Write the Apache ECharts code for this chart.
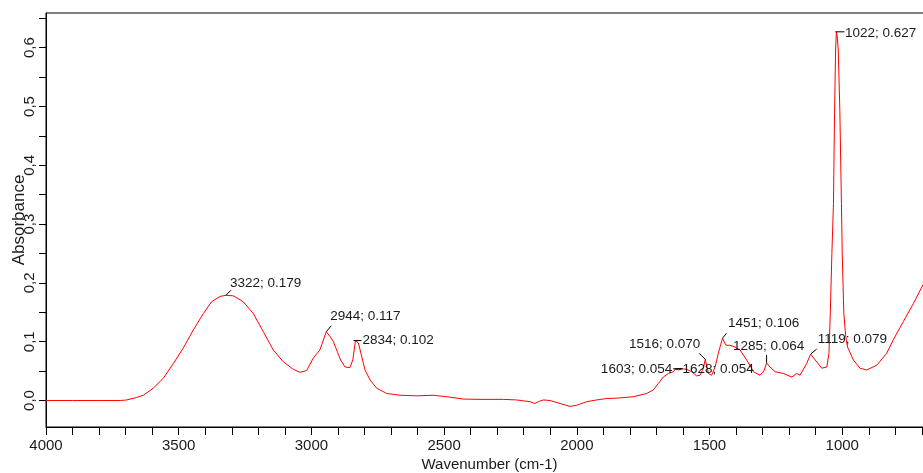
<!DOCTYPE html>
<html>
<head>
<meta charset="utf-8">
<script src="https://cdn.jsdelivr.net/npm/echarts@6/dist/echarts.min.js"></script>
<style>
html,body{margin:0;padding:0;background:#fff;}
#chart{width:923px;height:473px;}
</style>
</head>
<body>
<div id="chart"></div>
<script>
// Spectrum (wavenumber cm-1, absorbance)
var wavenumbers = [4000,3900,3800,3720,3696,3660,3633,3596,3558,3520,3483,3445,3407,3376,3344,3322,3294,3257,3219,3181,3144,3106,3068,3043,3018,2993,2968,2944,2930,2917,2905,2890,2873,2855,2844,2834,2823,2810,2798,2779,2754,2716,2666,2603,2541,2490,2428,2365,2277,2227,2176,2158,2140,2126,2101,2063,2026,2000,1963,1925,1887,1850,1787,1737,1712,1693,1674,1655,1636,1628,1618,1603,1586,1567,1549,1536,1523,1516,1504,1492,1479,1467,1458,1451,1438,1423,1404,1385,1360,1334,1310,1295,1285,1272,1253,1222,1190,1172,1159,1134,1119,1102,1077,1058,1050,1045,1039,1033,1029,1025,1022,1019,1015,1009,1003,1000,994,987,980,958,933,908,870,833,808,770,732,700,690];
var absorbance  = [0.000,0.000,0.000,0.000,0.001,0.005,0.009,0.021,0.038,0.063,0.089,0.120,0.148,0.168,0.177,0.179,0.178,0.168,0.148,0.117,0.086,0.066,0.053,0.048,0.051,0.072,0.086,0.117,0.109,0.100,0.086,0.069,0.057,0.056,0.069,0.102,0.098,0.074,0.052,0.035,0.021,0.012,0.009,0.008,0.009,0.0065,0.0025,0.002,0.002,0.001,-0.002,-0.005,-0.001,0.001,0.000,-0.005,-0.010,-0.008,-0.002,0.001,0.0035,0.004,0.0065,0.012,0.018,0.029,0.040,0.046,0.049,0.054,0.052,0.054,0.053,0.049,0.042,0.043,0.055,0.070,0.046,0.043,0.057,0.080,0.095,0.106,0.094,0.094,0.091,0.086,0.069,0.049,0.043,0.050,0.064,0.057,0.049,0.046,0.040,0.046,0.043,0.063,0.079,0.069,0.055,0.057,0.080,0.148,0.250,0.335,0.488,0.596,0.627,0.620,0.596,0.494,0.335,0.250,0.148,0.110,0.091,0.069,0.055,0.052,0.060,0.080,0.103,0.134,0.165,0.193,0.202];

// Peak annotations
var peakWn   = [3322, 2944, 2834, 1603, 1628, 1516, 1451, 1285, 1119, 1022];
var peakAbs  = [0.179, 0.117, 0.102, 0.054, 0.054, 0.070, 0.106, 0.064, 0.079, 0.627];
var peakText = ['3322; 0.179','2944; 0.117','2834; 0.102','1603; 0.054','1628; 0.054','1516; 0.070','1451; 0.106','1285; 0.064','1119; 0.079','1022; 0.627'];

// Tick labels
var xTickLabels = [4000, 3500, 3000, 2500, 2000, 1500, 1000];
var xTicks = [4000,3900,3800,3700,3600,3500,3400,3300,3200,3100,3000,2900,2800,2700,2600,2500,2400,2300,2200,2100,2000,1900,1800,1700,1600,1500,1400,1300,1200,1100,1000,900,800,700];
var yTickLabels = [0, 0.1, 0.2, 0.3, 0.4, 0.5, 0.6];
var yTicks = [0, 0.05, 0.1, 0.15, 0.2, 0.25, 0.3, 0.35, 0.4, 0.45, 0.5, 0.55, 0.6, 0.65];

// label layout (pixel offsets of leader line and text relative to the peak)
var labelLayout = [
  {l0:[0,0], l1:[5,-5], t:[4,-12], a:'left'},
  {l0:[0,0], l1:[5,-6], t:[4,-15], a:'left'},
  {l0:[-2,0], l1:[6,0], t:[7,0], a:'left'},
  {l0:[0,0], l1:[-9,0], t:[-10,0], a:'right'},
  {l0:[0,0], l1:[7,0], t:[7,0], a:'left'},
  {l0:[0,0], l1:[-6,-6], t:[-5,-15], a:'right'},
  {l0:[0,0], l1:[4,-5], t:[5.5,-15], a:'left'},
  {l0:[0,0], l1:[0,-8], t:[2,-17], a:'center'},
  {l0:[0,0], l1:[6,-5], t:[7,-15], a:'left'},
  {l0:[-1,0], l1:[8,0], t:[8.5,1], a:'left'}
];

var spectrum = wavenumbers.map(function(w,i){return [w, absorbance[i]];});
var peaks = peakWn.map(function(w,i){return [w, peakAbs[i], i];});

var FONT = '"Liberation Sans", Arial, sans-serif';
var chart = echarts.init(document.getElementById('chart'), null, {renderer:'canvas'});
chart.setOption({
  animation: false,
  backgroundColor: '#fff',
  grid: {left: 46, top: 13, right: -10, bottom: 46, containLabel: false, outerBoundsMode: 'none',
         show: true, borderColor: '#000', borderWidth: 1, backgroundColor: 'transparent'},
  xAxis: {
    type: 'value', inverse: true, min: 658, max: 4000,
    name: 'Wavenumber (cm-1)', nameLocation: 'middle', nameGap: 30, nameMoveOverlap: false,
    nameTextStyle: {fontFamily: FONT, fontSize: 15, color: '#1a1a1a'},
    axisLine: {onZero: false, lineStyle: {color: '#000', width: 1}},
    axisTick: {show: true, length: 8, lineStyle: {color: '#000'}, customValues: xTicks},
    axisLabel: {customValues: xTickLabels, margin: 11, fontFamily: FONT, fontSize: 15, color: '#1a1a1a',
      hideOverlap: false, formatter: function(v){return String(v);}},
    splitLine: {show: false}
  },
  yAxis: {
    type: 'value', min: -0.045, max: 0.659,
    name: 'Absorbance', nameLocation: 'middle', nameGap: 18, nameMoveOverlap: false,
    nameTextStyle: {fontFamily: FONT, fontSize: 17, color: '#1a1a1a'},
    axisLine: {show: true, onZero: false, lineStyle: {color: '#000', width: 1}},
    axisTick: {show: true, length: 7, lineStyle: {color: '#000'}, customValues: yTicks},
    axisLabel: {customValues: yTickLabels, rotate: 90, margin: 9, fontFamily: FONT, fontSize: 15, color: '#1a1a1a',
      formatter: function(v){return Number(v).toFixed(1).replace('.', ',');}},
    splitLine: {show: false}
  },
  series: [
    {type: 'line', data: spectrum, showSymbol: false, symbol: 'none', smooth: false,
     lineStyle: {color: '#ff0000', width: 1}, silent: true, z: 2},
    {type: 'custom', data: peaks, encode: {x: 0, y: 1}, clip: false, z: 3, silent: true,
     renderItem: function(params, api){
       var i = api.value(2);
       var p = api.coord([api.value(0), api.value(1)]);
       var L = labelLayout[i];
       return {type: 'group', children: [
         {type: 'line', shape: {x1: p[0]+L.l0[0], y1: p[1]+L.l0[1], x2: p[0]+L.l1[0], y2: p[1]+L.l1[1]},
          style: {stroke: '#000', lineWidth: 1}},
         {type: 'text', x: p[0]+L.t[0], y: p[1]+L.t[1],
          style: {text: peakText[i], fill: '#1a1a1a', font: '13.5px ' + FONT, align: L.a, verticalAlign: 'middle'}}
       ]};
     }}
  ]
});
</script>
</body>
</html>
